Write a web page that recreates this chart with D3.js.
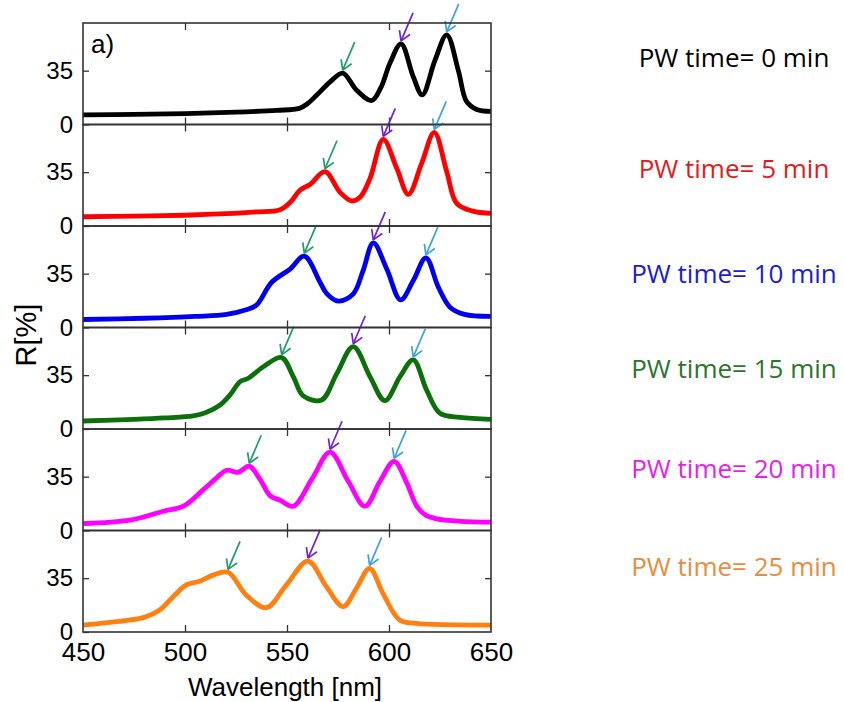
<!DOCTYPE html>
<html>
<head>
<meta charset="utf-8">
<script src="https://cdn.jsdelivr.net/npm/d3@7"></script>
<style>
  body { margin: 0; background: #fff; }
  text { font-family: "Liberation Sans", Arial, sans-serif; }
  .legend { font-family: "Open Sans", sans-serif; }
</style>
</head>
<body>
<svg id="chart" width="844" height="702"></svg>
<script>
// reflectance spectra, [wavelength nm, R %]
var times = [0, 5, 10, 15, 20, 25];

var spec0 = [[450,6.2],[475,6.6],[500,7.1],[525,8],[545,9.2],[556,10.5],[560,13.5],[564.5,19],[571,27.5],[577.3,33.4],[584,22.5],[591.5,15.6],[596,24],[600.5,40],[605.9,52.4],[611.9,31],[616.3,19.3],[622.5,41.6],[628.3,58.3],[634,35],[638,15],[643,9.8],[650,8.5]];
var spec5 = [[450,6],[475,6.4],[500,7],[520,8],[535,9.2],[546.6,10.6],[552,16],[556.4,23.4],[561.3,27],[568.6,35.3],[576,21.9],[581.7,16.3],[586,19],[590.7,31],[597.2,56.3],[603.8,37.5],[609.5,20.6],[616,40.7],[622.2,60.9],[628.3,35.3],[633.2,14.7],[641,9.7],[650,8.2]];
var spec10 = [[450,5.2],[480,6],[505,7.2],[520.4,8.5],[530,11.5],[535,14.5],[542.5,29.4],[551.5,38],[558.5,46.4],[566.2,29.4],[569.5,22],[575.2,17.1],[582.5,21.9],[587.3,37],[592.3,55],[598.9,38],[605.7,18],[611.9,30.5],[618.1,45.3],[624.2,26.2],[629.9,13.2],[637,8.5],[650,7.2]];
var spec15 = [[450,5.2],[475,6.3],[490,7.2],[504,8.5],[510,10.5],[517.2,15.6],[522,22],[527,30.8],[531,33],[538.4,40.5],[547.4,46.4],[553.1,34],[558,21.5],[567,18.9],[574.4,36],[582.5,53.5],[590.7,34],[598,18.4],[605.4,34],[611.9,44.9],[618.4,25.4],[625,10.2],[634.8,7.6],[650,6.3]];
var spec20 = [[450,4.5],[473,6.7],[489.4,12.5],[499.2,15.8],[509,26.6],[515.5,34.2],[520.4,39.2],[526.1,37.9],[531.5,41.8],[536.8,33.2],[541.7,22.7],[546.6,19.7],[553.1,15.8],[562.1,33.2],[571.1,50.9],[580,32],[588.2,15.8],[595.6,32],[602.5,45],[608.7,31],[613.6,15.8],[618,10],[623.4,7.6],[635,6],[650,5.4]];
var spec25 = [[450,4.5],[469.6,7.2],[480,9.5],[487.6,14.3],[495,24],[500.6,30.6],[507.2,33],[513.7,37],[521.1,38.8],[530,24],[539.9,15.8],[549.7,30.6],[560.3,46.1],[569.3,29.5],[577.5,16.5],[584,28.4],[590.5,41.4],[597,25.2],[605.2,7.8],[613.4,5.6],[650,4.5]];
var spectra = [spec0, spec5, spec10, spec15, spec20, spec25];

// marked peaks (wavelengths) in each spectrum: green, purple, blue arrows
var peaks = [[577.3,605.9,628.3],[568.6,597.2,622.2],[558.5,592.3,618.1],[547.4,582.5,611.9],[531.5,571.1,602.5],[521.1,560.3,590.5]];

var xTicks = [450, 500, 550, 600, 650];
var yTicks = [0, 35];

var lineColors = ["#000000", "#ff0000", "#0000ee", "#0b700b", "#ff00ff", "#ff8010"];
var labelColors = ["#000000", "#e41a1a", "#1c1cd2", "#2b752b", "#e81ee8", "#e88d3e"];
var arrowColors = ["#1f9a6c", "#7020d8", "#3fa2dc"];
var labelOffsets = [35, 44, 48, 41, 40, 36];

var svg = d3.select("#chart"),
    plotL = 83, plotR = 491, plotT = 23, plotB = 632,
    ph = (plotB - plotT) / spectra.length;

var x = d3.scaleLinear().domain([450, 650]).range([plotL, plotR]);

var line = d3.line()
    .x(function(d) { return x(d[0]); })
    .y(function(d) { return d[1]; })
    .curve(d3.curveCatmullRom.alpha(0.5));

spectra.forEach(function(data, i) {
  var y0 = plotT + i * ph;
  var y = d3.scaleLinear().domain([0, 66]).range([y0 + ph, y0]);
  var g = svg.append("g");

  g.append("path")
      .datum(data.map(function(d) { return [d[0], y(d[1])]; }))
      .attr("d", line)
      .attr("fill", "none")
      .attr("stroke", lineColors[i])
      .attr("stroke-width", 4.8)
      .attr("stroke-linejoin", "round");

  // arrows pointing at the peaks
  peaks[i].forEach(function(w, k) {
    var p = data.find(function(d) { return d[0] === w; });
    var tx = x(p[0]), ty = y(p[1]) - 3;
    var sx = tx + 12, sy = ty - 28;
    var a = Math.atan2(ty - sy, tx - sx), hl = 11;
    var c = arrowColors[k];
    g.append("line").attr("x1", sx).attr("y1", sy).attr("x2", tx).attr("y2", ty)
        .attr("stroke", c).attr("stroke-width", 1.7);
    [-0.55, 0.55].forEach(function(da) {
      g.append("line").attr("x1", tx).attr("y1", ty)
          .attr("x2", tx - hl * Math.cos(a + da)).attr("y2", ty - hl * Math.sin(a + da))
          .attr("stroke", c).attr("stroke-width", 1.7);
    });
  });

  g.append("g")
      .attr("transform", "translate(" + plotL + ",0)")
      .call(d3.axisLeft(y).tickValues(yTicks).tickSize(-6).tickPadding(10))
      .call(function(s) { s.select(".domain").remove(); })
      .selectAll("text").attr("font-size", 24).attr("fill", "#000");
  g.append("g")
      .attr("transform", "translate(" + plotR + ",0)")
      .call(d3.axisRight(y).tickValues([35]).tickSize(-6).tickFormat(""))
      .call(function(s) { s.select(".domain").remove(); });
  g.append("g")
      .attr("transform", "translate(0," + y0 + ")")
      .call(d3.axisBottom(x).tickValues(xTicks.slice(1, -1)).tickSize(7).tickFormat(""))
      .call(function(s) { s.select(".domain").remove(); });
  g.append("g")
      .attr("transform", "translate(0," + (y0 + ph) + ")")
      .call(d3.axisTop(x).tickValues(xTicks.slice(1, -1)).tickSize(7).tickFormat(""))
      .call(function(s) { s.select(".domain").remove(); });
  g.selectAll(".tick line").attr("stroke", "#333").attr("stroke-width", 1.3);

  g.append("rect")
      .attr("x", plotL).attr("y", y0)
      .attr("width", plotR - plotL).attr("height", ph)
      .attr("fill", "none").attr("stroke", "#333").attr("stroke-width", 1.6);

  svg.append("text")
      .attr("class", "legend")
      .attr("x", 734).attr("y", y0 + labelOffsets[i])
      .attr("dy", "0.35em")
      .attr("text-anchor", "middle")
      .attr("font-size", 26)
      .attr("fill", labelColors[i])
      .text("PW time= " + times[i] + " min");
});

svg.append("g")
    .attr("transform", "translate(0," + plotB + ")")
    .call(d3.axisBottom(x).tickValues(xTicks).tickSize(0).tickPadding(11))
    .call(function(s) { s.select(".domain").remove(); })
    .selectAll("text").attr("font-size", 26).attr("fill", "#000");

svg.append("text")
    .attr("x", (plotL + plotR) / 2 - 2).attr("y", 696)
    .attr("text-anchor", "middle")
    .attr("font-size", 26)
    .text("Wavelength [nm]");

svg.append("text")
    .attr("transform", "translate(36,335) rotate(-90)")
    .attr("text-anchor", "middle")
    .attr("font-size", 29)
    .text("R[%]");

svg.append("text")
    .attr("x", 91).attr("y", 53)
    .attr("font-size", 26)
    .text("a)");
</script>
</body>
</html>
